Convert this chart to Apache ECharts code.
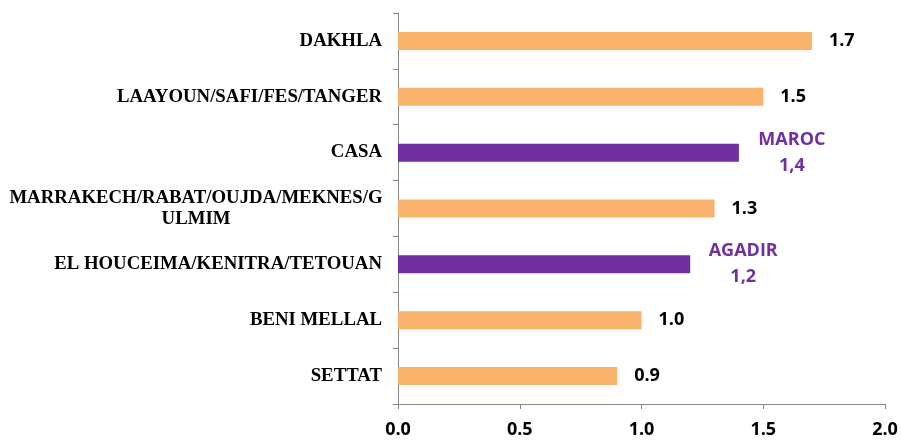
<!DOCTYPE html>
<html>
<head>
<meta charset="utf-8">
<script src="https://cdn.jsdelivr.net/npm/echarts@6/dist/echarts.min.js"></script>
<style>
  html, body { margin: 0; padding: 0; background: #fff; }
  #chart { width: 901px; height: 441px; }
</style>
</head>
<body>
<div id="chart"></div>
<script>
// categories, top to bottom
const categories = [
    'DAKHLA',
    'LAAYOUN/SAFI/FES/TANGER',
    'CASA',
    'MARRAKECH/RABAT/OUJDA/MEKNES/G\nULMIM',
    'EL HOUCEIMA/KENITRA/TETOUAN',
    'BENI MELLAL',
    'SETTAT'
];
const values = [1.7, 1.5, 1.4, 1.3, 1.2, 1.0, 0.9];
// reference markers drawn in purple with their own label
const markers = ['', '', 'MAROC', '', 'AGADIR', '', ''];
const xTicks = [0, 0.5, 1.0, 1.5, 2.0];

const ORANGE = '#F9B26B';
const PURPLE = '#7030A0';

const seriesData = values.map((v, i) => {
    if (markers[i]) {
        return {
            value: v,
            itemStyle: { color: PURPLE },
            label: {
                formatter: '{p|' + markers[i] + '}\n{p|' + v.toFixed(1).replace('.', ',') + '}',
                rich: {
                    p: {
                        width: 72,
                        align: 'center',
                        color: PURPLE,
                        fontFamily: 'Open Sans',
                        fontWeight: 'bold',
                        fontSize: 18,
                        lineHeight: 26
                    }
                }
            }
        };
    }
    return { value: v, itemStyle: { color: ORANGE } };
});

const chart = echarts.init(document.getElementById('chart'));
chart.setOption({
    animation: false,
    grid: { left: 398, right: 16, top: 13, bottom: 37 },
    xAxis: {
        type: 'value',
        min: xTicks[0],
        max: xTicks[xTicks.length - 1],
        interval: 0.5,
        splitLine: { show: false },
        axisLine: { show: true, lineStyle: { color: '#868686', width: 1 } },
        axisTick: { show: true, length: 5, lineStyle: { color: '#868686' } },
        axisLabel: {
            margin: 17,
            color: '#000',
            fontFamily: 'Open Sans',
            fontWeight: 'bold',
            fontSize: 18,
            formatter: v => v.toFixed(1)
        }
    },
    yAxis: {
        type: 'category',
        inverse: true,
        data: categories,
        axisLine: { show: true, lineStyle: { color: '#868686', width: 1 } },
        axisTick: { show: true, length: 5, lineStyle: { color: '#868686' } },
        axisLabel: {
            margin: 16,
            color: '#000',
            fontFamily: 'Liberation Serif',
            fontWeight: 'bold',
            fontSize: 18.8,
            formatter: v => {
                if (v.indexOf('\n') >= 0) {
                    return v.split('\n').map(s => '{w|' + s + '}').join('\n');
                }
                return v;
            },
            rich: {
                w: {
                    width: 372,
                    align: 'center',
                    color: '#000',
                    fontFamily: 'Liberation Serif',
                    fontWeight: 'bold',
                    fontSize: 18.8,
                    lineHeight: 21
                }
            }
        }
    },
    series: [{
        type: 'bar',
        data: seriesData,
        barWidth: 18,
        label: {
            show: true,
            position: 'right',
            distance: 17,
            color: '#000',
            fontFamily: 'Open Sans',
            fontWeight: 'bold',
            fontSize: 18,
            formatter: p => p.value.toFixed(1)
        }
    }]
});
</script>
</body>
</html>
